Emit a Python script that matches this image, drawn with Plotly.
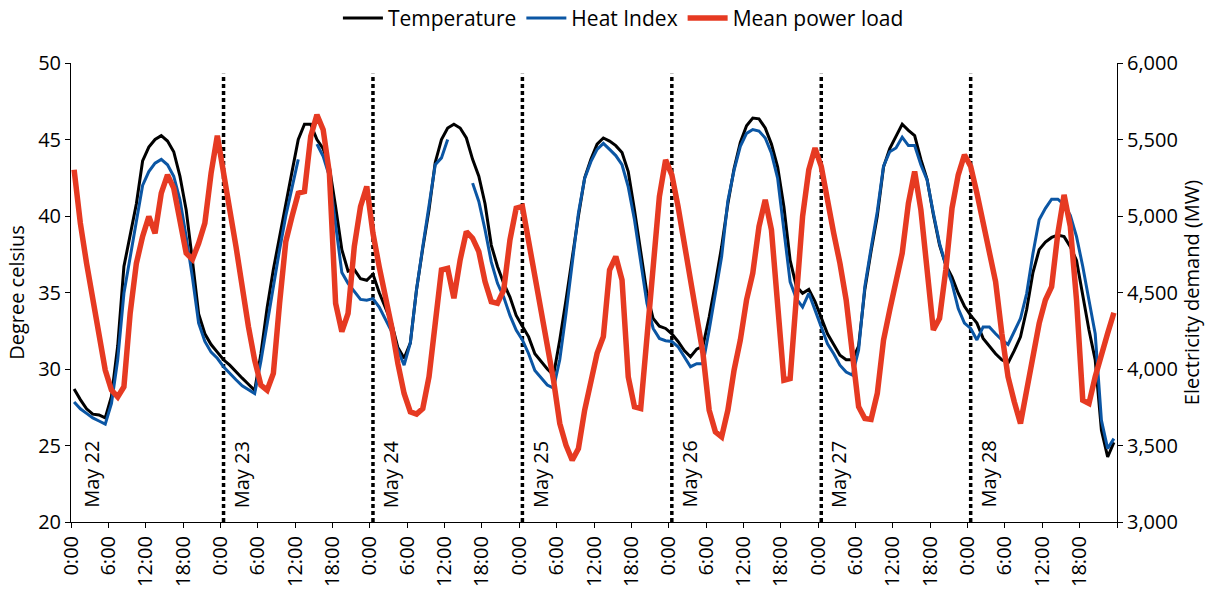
import plotly.graph_objects as go

# ---------------- data (hourly, May 22 0:00 .. May 28 23:00) ----------------
day_labels = ["May 22", "May 23", "May 24", "May 25", "May 26", "May 27", "May 28"]
hour_tick_labels = ["0:00", "6:00", "12:00", "18:00"]

temperature = [
    # May 22
    28.7, 28.0, 27.4, 27.05, 27.0, 26.8, 28.2, 31.5, 36.7, 38.7, 40.8, 43.6,
    44.5, 45.0, 45.25, 44.9, 44.2, 42.6, 40.4, 37.1, 33.6, 32.3, 31.6, 31.1,
    # May 23
    30.6, 30.25, 29.8, 29.4, 29.0, 28.6, 31.0, 34.0, 36.5, 38.7, 40.7, 42.9,
    45.0, 46.0, 46.0, 45.0, 44.4, 43.2, 40.6, 37.8, 36.4, 36.5, 35.9, 35.8,
    # May 24
    36.2, 35.0, 34.0, 33.0, 31.4, 30.7, 31.7, 35.2, 37.9, 40.4, 43.5, 45.0,
    45.75, 46.0, 45.75, 45.1, 43.7, 42.6, 40.8, 38.1, 36.7, 35.6, 34.7, 33.5,
    # May 25
    32.8, 32.1, 31.0, 30.5, 30.0, 29.6, 31.9, 34.5, 37.35, 40.0, 42.5, 43.7,
    44.7, 45.1, 44.9, 44.6, 44.15, 42.9, 40.4, 37.8, 34.95, 33.3, 32.8, 32.65,
    # May 26
    32.3, 31.8, 31.2, 30.8, 31.3, 31.5, 33.4, 35.6, 38.0, 40.8, 43.1, 44.8,
    45.9, 46.4, 46.35, 45.75, 44.7, 43.2, 40.6, 37.1, 35.4, 34.95, 35.2, 34.4,
    # May 27
    33.3, 32.3, 31.6, 30.9, 30.6, 30.6, 31.5, 35.2, 37.7, 40.0, 43.2, 44.4,
    45.2, 46.0, 45.6, 45.25, 43.7, 42.4, 40.1, 38.1, 36.8, 36.0, 34.95, 34.1,
    # May 28
    33.5, 33.0, 32.0, 31.5, 31.0, 30.6, 30.4, 31.2, 32.1, 33.9, 36.3, 37.8,
    38.3, 38.6, 38.75, 38.65, 38.0, 37.1, 34.7, 32.55, 30.6, 26.0, 24.25, 25.2,
]

heat_index = [
    # May 22
    27.85, 27.4, 27.1, 26.8, 26.6, 26.4, 27.75, 30.6, 34.95, 37.35, 39.75, 42.0,
    42.9, 43.45, 43.7, 43.35, 42.6, 41.05, 38.65, 36.0, 33.0, 31.8, 31.1, 30.7,
    # May 23
    30.15, 29.7, 29.3, 28.9, 28.65, 28.4, 30.5, 33.0, 35.4, 37.8, 40.0, 41.8,
    43.7, None, None, 44.7, 43.9, 42.6, 39.3, 36.3, 35.6, 35.05, 34.55, 34.5,
    # May 24
    34.6, 34.05, 33.25, 32.45, 31.25, 30.25, 31.7, 35.2, 38.0, 40.6, 43.35, 43.8,
    45.0, None, None, None, 42.15, 40.95, 39.1, 37.0, 35.6, 34.7, 33.5, 32.55,
    # May 25
    31.9, 31.0, 29.9, 29.4, 28.95, 28.75, 30.6, 33.6, 37.0, 40.2, 42.45, 43.55,
    44.35, 44.75, 44.35, 43.95, 43.35, 41.9, 39.75, 37.1, 34.3, 32.65, 32.0, 31.85,
    # May 26
    31.8, 31.45, 30.8, 30.15, 30.35, 30.35, 32.55, 34.95, 37.35, 41.0, 43.0, 44.55,
    45.4, 45.65, 45.55, 45.1, 44.1, 42.45, 39.1, 35.7, 34.6, 34.05, 34.95, 33.85,
    # May 27
    32.65, 31.65, 31.0, 30.25, 29.8, 29.6, 31.25, 35.4, 37.9, 40.3, 43.25, 44.2,
    44.45, 45.15, 44.6, 44.6, 43.35, 42.35, 40.2, 38.2, 36.8, 35.6, 33.95, 33.0,
    # May 28
    32.65, 31.9, 32.75, 32.75, 32.3, 31.9, 31.6, 32.45, 33.3, 34.95, 37.55, 39.75,
    40.5, 41.1, 41.1, 40.75, 40.05, 38.65, 36.7, 34.5, 32.3, 26.65, 24.8, 25.45,
]

power_load = [
    # May 22
    5302, 4953, 4691, 4451, 4255, 3993, 3862, 3818, 3884, 4364, 4691, 4866,
    4997, 4887, 5149, 5269, 5182, 4975, 4757, 4717, 4822, 4953, 5280, 5525,
    # May 23
    5258, 5040, 4800, 4516, 4276, 4058, 3895, 3862, 3971, 4429, 4833, 4997,
    5149, 5160, 5520, 5662, 5564, 5280, 4429, 4244, 4364, 4800, 5062, 5193,
    # May 24
    4887, 4669, 4473, 4276, 4036, 3840, 3720, 3705, 3742, 3949, 4298, 4647,
    4658, 4462, 4713, 4898, 4855, 4767, 4571, 4440, 4429, 4516, 4844, 5051,
    # May 25
    5062, 4833, 4582, 4364, 4167, 3927, 3644, 3502, 3404, 3480, 3731, 3938,
    4102, 4211, 4647, 4735, 4582, 3949, 3753, 3742, 4189, 4691, 5127, 5367,
    # May 26
    5269, 5062, 4833, 4560, 4364, 4102, 3731, 3589, 3556, 3731, 3993, 4189,
    4451, 4626, 4931, 5106, 4909, 4364, 3927, 3938, 4516, 4997, 5302, 5444,
    # May 27
    5324, 5084, 4887, 4691, 4451, 4102, 3753, 3676, 3670, 3840, 4189, 4386,
    4582, 4757, 5084, 5291, 5040, 4604, 4255, 4331, 4647, 5051, 5269, 5400,
    # May 28
    5324, 5149, 4942, 4757, 4571, 4233, 3949, 3786, 3644, 3862, 4102, 4298,
    4451, 4538, 4887, 5138, 4931, 4450, 3796, 3775, 3949, 4102, 4233, 4368,
]

# ---------------- derived positions ----------------
n_hours = len(temperature)
hours = list(range(n_hours))
n_days = len(day_labels)
day_start_hours = [d * 24 for d in range(n_days)]

tick_vals = [h - 0.5 for h in range(0, n_hours + 1, 6)]
tick_text = [hour_tick_labels[(i % 4)] for i in range(len(tick_vals) - 1)] + [""]

FONT = "Open Sans"
BLACK = "#000000"
BLUE = "#0b56a4"
RED = "#e63a22"

fig = go.Figure()
fig.add_trace(go.Scatter(x=hours, y=temperature, name="Temperature", mode="lines",
                         line=dict(color=BLACK, width=3), yaxis="y"))
fig.add_trace(go.Scatter(x=hours, y=heat_index, name="Heat Index", mode="lines",
                         line=dict(color=BLUE, width=3), connectgaps=False, yaxis="y"))
fig.add_trace(go.Scatter(x=hours, y=power_load, name="Mean power load", mode="lines",
                         line=dict(color=RED, width=5.5), yaxis="y2"))

shapes = []
for h in day_start_hours[1:]:
    shapes.append(dict(type="line", xref="x", yref="y", x0=h, x1=h, y0=20, y1=49.3,
                       line=dict(color=BLACK, width=3.5, dash="4px,3px"), layer="below"))

annotations = []
for h, lab in zip(day_start_hours, day_labels):
    annotations.append(dict(x=h + 2.8, y=20.8, xref="x", yref="y", text=lab,
                            textangle=-90, showarrow=False, xanchor="center",
                            yanchor="bottom", font=dict(family=FONT, size=20, color=BLACK)))

fig.update_layout(
    width=1220, height=589,
    margin=dict(l=71, r=103, t=63, b=67, autoexpand=False),
    paper_bgcolor="white", plot_bgcolor="white",
    font=dict(family=FONT, size=20, color=BLACK),
    shapes=shapes, annotations=annotations,
    showlegend=True,
    legend=dict(orientation="h", xref="container", yref="container",
                x=0.511, y=0.969, xanchor="center", yanchor="middle",
                font=dict(family=FONT, size=21, color=BLACK),
                bgcolor="rgba(0,0,0,0)", itemwidth=40, tracegroupgap=0),
    xaxis=dict(range=[-0.5, n_hours - 0.5], tickmode="array", tickvals=tick_vals,
               ticktext=tick_text, tickangle=-90, ticks="outside", ticklen=5,
               tickcolor=BLACK, showline=True, linecolor=BLACK, linewidth=1,
               showgrid=False, zeroline=False, automargin=False,
               tickfont=dict(family=FONT, size=20, color=BLACK)),
    yaxis=dict(range=[20, 50], tickvals=[20, 25, 30, 35, 40, 45, 50], ticks="outside",
               ticklen=5, tickcolor=BLACK, showline=True, linecolor=BLACK, linewidth=1,
               showgrid=False, zeroline=False, automargin=False,
               title=dict(text="Degree celsius", standoff=8,
                          font=dict(family=FONT, size=20, color=BLACK)),
               tickfont=dict(family=FONT, size=20, color=BLACK)),
    yaxis2=dict(range=[3000, 6000], tickvals=[3000, 3500, 4000, 4500, 5000, 5500, 6000],
                tickformat=",d", overlaying="y", side="right", ticks="outside",
                ticklen=5, tickcolor=BLACK, showline=True, linecolor=BLACK, linewidth=1,
                showgrid=False, zeroline=False, automargin=False,
                title=dict(text="Electricity demand (MW)", standoff=6,
                           font=dict(family=FONT, size=20, color=BLACK)),
                tickfont=dict(family=FONT, size=20, color=BLACK)),
)

fig.write_html("out.html")
